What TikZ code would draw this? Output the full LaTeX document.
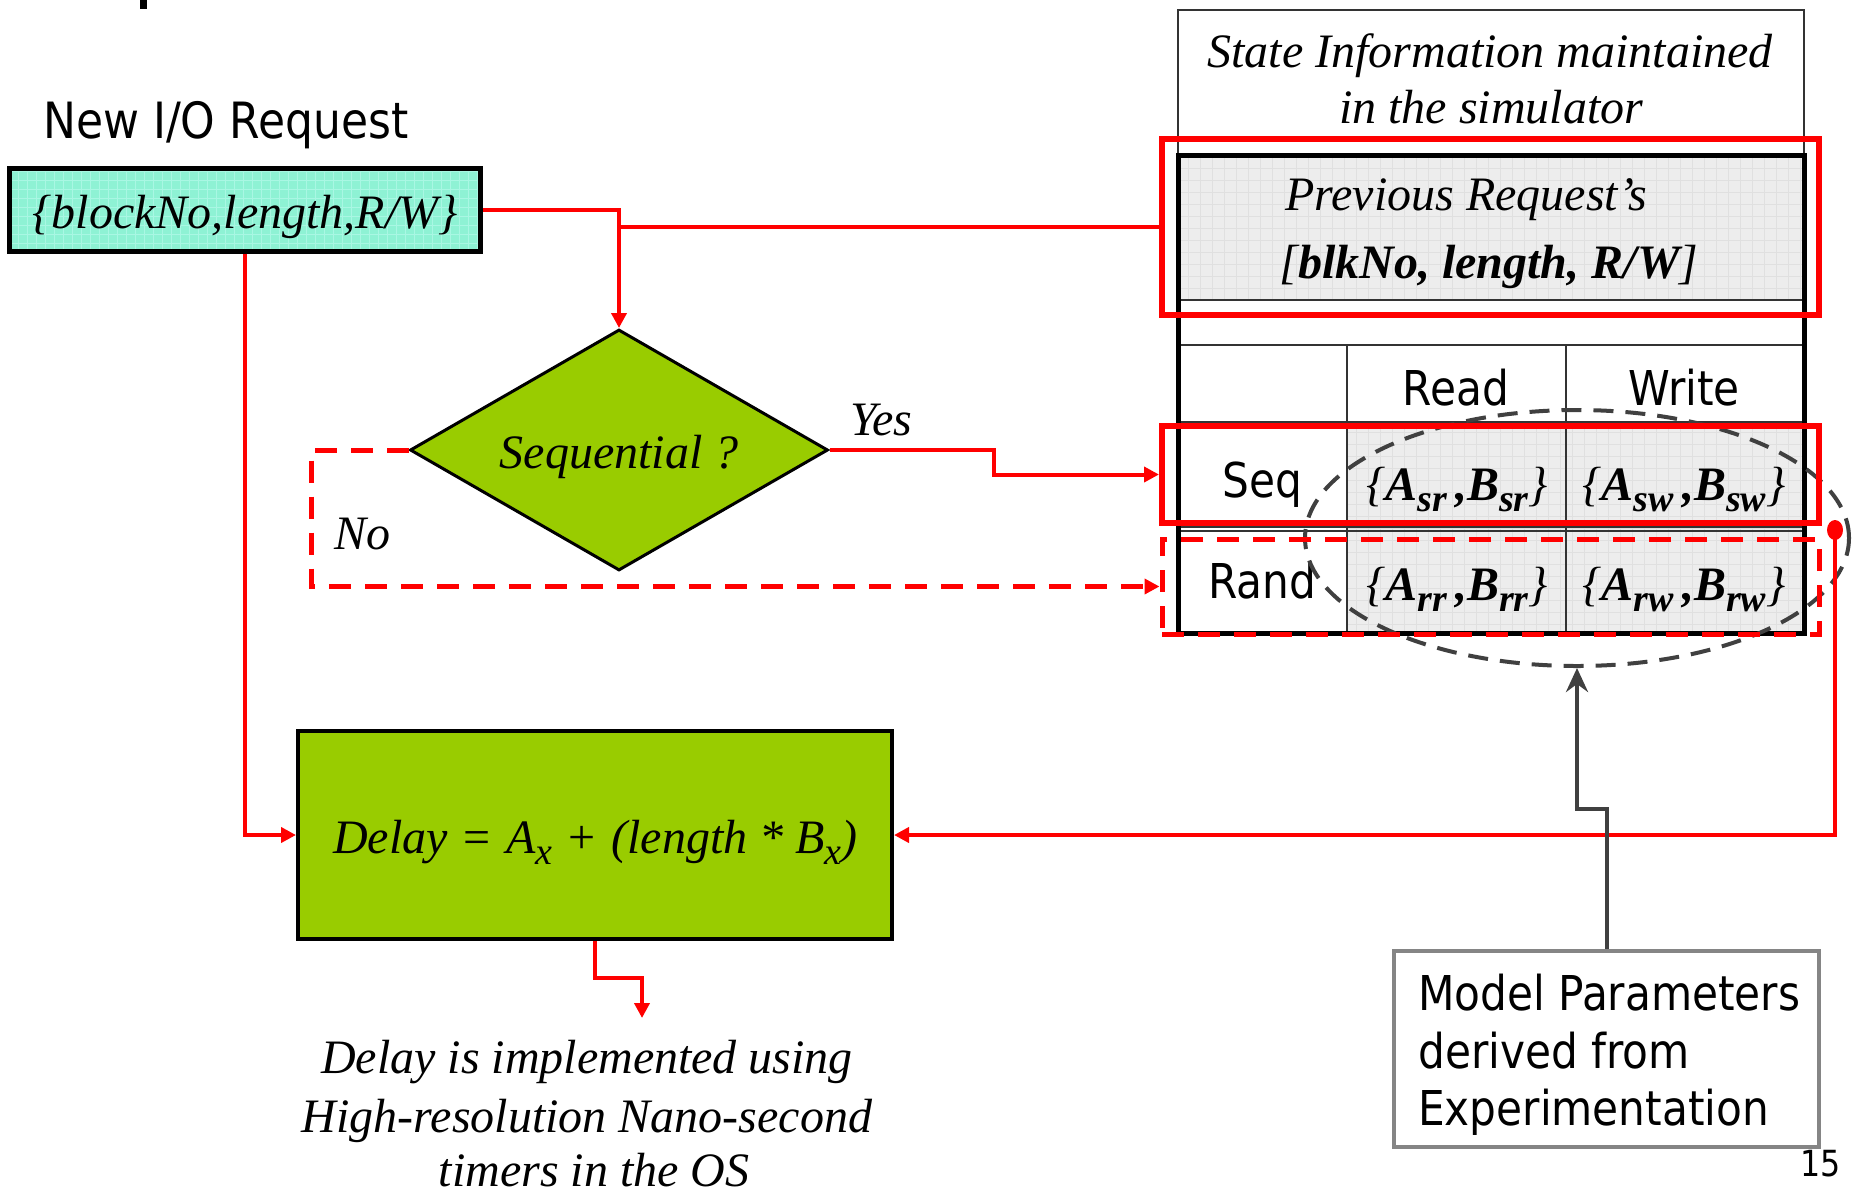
\documentclass[tikz,border=0pt]{standalone}
\usepackage{fontspec}
\setmainfont{Liberation Serif}
\setsansfont[FakeStretch=0.88]{DejaVu Sans}
\usetikzlibrary{arrows.meta,shapes.geometric}

\definecolor{aquafill}{HTML}{8EF2D4}
\definecolor{aquagrid}{HTML}{A9F7E3}
\definecolor{leafgreen}{HTML}{99CC00}
\definecolor{cellgray}{HTML}{EDEDED}
\definecolor{cellgrid}{HTML}{E0E0E0}
\definecolor{ringgray}{HTML}{404040}
\definecolor{boxgray}{HTML}{858585}

% lowered subscript used in the parameter cells and the delay formula
\newcommand\lowsub[1]{\raisebox{-0.23em}{\fontsize{38}{38}\selectfont #1}}

\begin{document}
\begin{tikzpicture}[x=1pt,y=-1pt,
  serifit/.style={font=\fontsize{48}{56}\selectfont\itshape, inner sep=0pt},
  sanstxt/.style={font=\fontsize{48}{56}\selectfont\sffamily, inner sep=0pt},
  redline/.style={draw=red, line width=4pt},
  redarrow/.style={redline, -{Triangle[length=15pt,width=15pt]}},
  reddasharrow/.style={redline, line width=5pt, dash pattern=on 22pt off 14pt, -{Triangle[length=15pt,width=15pt]}},
  redbox/.style={draw=red, line width=6pt, inner sep=0pt},
  reddashbox/.style={draw=red, line width=5pt, dash pattern=on 22pt off 14pt, inner sep=0pt},
  reqbox/.style={draw=black, line width=5pt, inner sep=0pt},
  decision/.style={diamond, draw=black, fill=leafgreen, line width=3pt, inner sep=0pt,
    minimum width=418pt, minimum height=241pt},
  delaybox/.style={draw=black, fill=leafgreen, line width=4pt, inner sep=0pt},
  tablethick/.style={draw=black, line width=5pt},
  tablethin/.style={draw=black!80, line width=2pt},
  ringstyle/.style={ellipse, draw=ringgray, line width=4pt, dash pattern=on 20pt off 12pt, inner sep=0pt},
  grayarrow/.style={draw=ringgray, line width=4pt, -{Stealth[length=24pt,width=22pt,inset=8pt]}},
  modelbox/.style={draw=boxgray, line width=4pt, inner sep=0pt},
]
\useasboundingbox (0,0) rectangle (1862,1194);

% fragment of a glyph at the top edge
\fill[black] (140,0) rectangle (147,9);

% ---------- new request ----------
\node[font=\fontsize{50}{58}\selectfont\sffamily, inner sep=0pt, anchor=base west] (newreq) at (43,138) {New I/O Request};
\fill[aquafill] (9,168) rectangle (480,251);
\begin{scope}
  \clip (9,168) rectangle (480,251);
  \draw[aquagrid, line width=1pt, step=9pt] (0,160) grid (490,260);
\end{scope}
\node[reqbox, minimum width=471pt, minimum height=83pt] (req) at (244.5,209.5) {};
\node[serifit, anchor=base] (reqtxt) at (245,228) {\{blockNo,length,R/W\}};

% ---------- decision ----------
\node[decision] (seq) at (619,450) {};
\node[serifit, anchor=base] (seqtxt) at (619,468) {Sequential ?};
\node[serifit, anchor=base west] (yes) at (850,435) {Yes};
\node[serifit, anchor=base west] (no) at (334,549) {No};

% ---------- delay computation ----------
\node[delaybox, minimum width=594pt, minimum height=208pt] (delay) at (595,835) {};
\node[serifit, anchor=base west] (delaytxt) at (333,853)
  {Delay\hspace{0.08em} \textup{=}\hspace{0.08em} A\lowsub{x}\hspace{0.08em} \textup{+}\hspace{0.08em} (length * B\lowsub{x})};
\node[serifit, anchor=base] (cap1) at (587,1073) {Delay is implemented using};
\node[serifit, anchor=base] (cap2) at (587,1132) {High-resolution Nano-second};
\node[serifit, anchor=base] (cap3) at (594,1186) {timers in the OS};

% ---------- state table ----------
\fill[cellgray] (1178,155) rectangle (1804,300);
\fill[cellgray] (1347,422) rectangle (1804,633);
\begin{scope}
  \clip (1178,155) rectangle (1804,300);
  \draw[cellgrid, line width=0.8pt, step=12pt] (1170,150) grid (1810,310);
\end{scope}
\begin{scope}
  \clip (1347,422) rectangle (1804,633);
  \draw[cellgrid, line width=0.8pt, step=12pt] (1340,415) grid (1810,640);
\end{scope}
\draw[tablethin] (1178,155) -- (1178,10) -- (1804,10) -- (1804,155);
\draw[tablethin] (1178,300) -- (1804,300);
\draw[tablethin] (1178,345) -- (1804,345);
\draw[tablethin] (1178,422) -- (1804,422);
\draw[tablethin] (1178,527) -- (1804,527);
\draw[tablethin] (1178,531) -- (1804,531);
\draw[tablethin] (1347,345) -- (1347,633);
\draw[tablethin] (1566,345) -- (1566,633);
\draw[tablethick] (1178,155) rectangle (1804,633);

\node[serifit, anchor=base] (state1) at (1490,67) {State Information maintained};
\node[serifit, anchor=base] (state2) at (1491,123) {in the simulator};
\node[serifit, anchor=base] (prev1) at (1466,210) {Previous Request\textquoteright s};
\node[serifit, anchor=base] (prev2) at (1489,278) {[\textbf{blkNo, length, R/W}]};

\node[sanstxt, anchor=base] (colread) at (1456,405) {Read};
\node[sanstxt, anchor=base] (colwrite) at (1684,405) {Write};
\node[sanstxt, anchor=base] (rowseq) at (1262,497) {Seq};
\node[sanstxt, anchor=base] (rowrand) at (1262,598) {Rand};

\node[serifit, anchor=base] (psr) at (1457,500) {\{\textbf{A\lowsub{sr}\,,B\lowsub{sr}}\}};
\node[serifit, anchor=base] (psw) at (1684,500) {\{\textbf{A\lowsub{sw}\,,B\lowsub{sw}}\}};
\node[serifit, anchor=base] (prr) at (1457,600) {\{\textbf{A\lowsub{rr}\,,B\lowsub{rr}}\}};
\node[serifit, anchor=base] (prw) at (1684,600) {\{\textbf{A\lowsub{rw}\,,B\lowsub{rw}}\}};

% parameter group and highlight frames
\node[ringstyle, minimum width=544pt, minimum height=256pt] (ring) at (1577,538) {};
\node[redbox, minimum width=657pt, minimum height=176pt] (prevred) at (1490.5,227) {};
\node[redbox, minimum width=657pt, minimum height=97pt] (seqred) at (1490.5,474.5) {};
\node[reddashbox, minimum width=657pt, minimum height=95pt] (randred) at (1490.5,586.5) {};

% ---------- model parameters ----------
\node[modelbox, minimum width=425pt, minimum height=196pt] (model) at (1606.5,1049) {};
\node[sanstxt, anchor=base west] (model1) at (1418,1010) {Model Parameters};
\node[sanstxt, anchor=base west] (model2) at (1418,1068) {derived from};
\node[sanstxt, anchor=base west] (model3) at (1418,1125) {Experimentation};
\node[font=\fontsize{36}{42}\selectfont\sffamily, inner sep=0pt, anchor=base west] (pageno) at (1800,1176) {15};

% ---------- connectors ----------
\coordinate (yesbend) at (994,450);
\coordinate (nobend) at (311,450);
\coordinate (tap) at (1835,530);
\coordinate (capbend) at (595,978);
\coordinate (captip) at (642,1018);

\draw[redarrow] (req.east) -| (seq.north);
\draw[redline] (prevred.west) -- (prevred.west -| seq.north);
\draw[redarrow] (seq.east) -- (yesbend) |- (seqred.west);
\draw[reddasharrow] (seq.west) -- (nobend) |- (randred.west);
\draw[redarrow] (req.south) |- (delay.west);
\fill[red] (tap) ellipse [x radius=8, y radius=10];
\draw[redarrow] (tap) |- (delay.east);
\draw[redarrow] (delay.south) -- (capbend) -| (captip);
\draw[grayarrow] (model.north) -- ++(0,-140) -| (ring.south);
\end{tikzpicture}
\end{document}
